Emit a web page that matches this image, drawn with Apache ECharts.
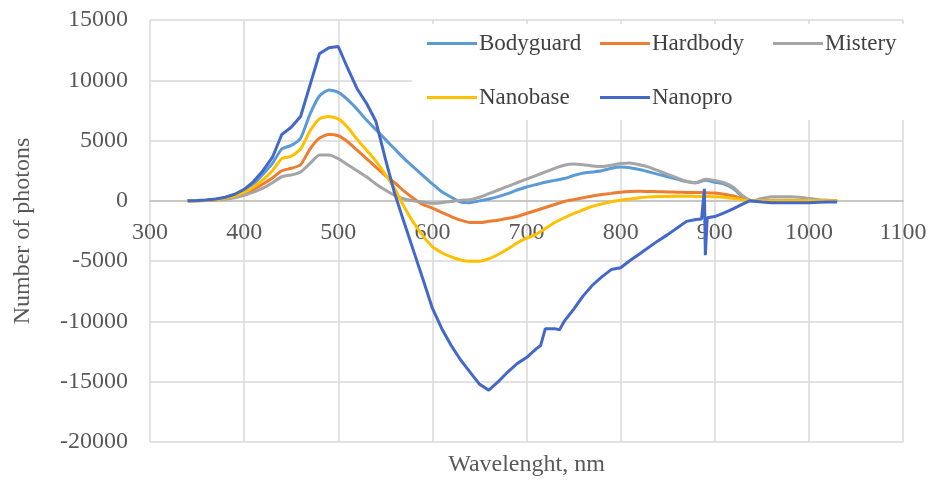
<!DOCTYPE html>
<html>
<head>
<meta charset="utf-8">
<script src="https://cdn.jsdelivr.net/npm/echarts@6/dist/echarts.min.js"></script>
<style>html,body{margin:0;padding:0;background:#fff;}#c{width:931px;height:481px;}</style>
</head>
<body>
<div id="c"></div>
<script>
var seriesNames = ['Bodyguard', 'Hardbody', 'Mistery', 'Nanobase', 'Nanopro'];
var xTicks = [300, 400, 500, 600, 700, 800, 900, 1000, 1100];
var yTicks = [-20000, -15000, -10000, -5000, 0, 5000, 10000, 15000];

var wavelengths = [340,350,360,370,380,390,400,410,420,430,440,450,460,470,480,490,500,510,520,530,540,550,560,570,580,590,600,610,620,630,640,650,660,670,680,690,700,710,720,730,740,750,760,770,780,790,800,810,820,830,840,850,860,870,880,890,900,910,920,930,940,950,960,970,980,990,1000,1010,1020,1030];

var bodyguard = [0,20,60,130,260,480,850,1400,2200,3100,4300,4600,5200,7200,8700,9200,9000,8400,7600,6700,5900,5100,4300,3500,2800,2100,1400,750,300,-100,-150,0,150,350,600,900,1150,1350,1550,1700,1850,2100,2300,2400,2500,2700,2800,2750,2600,2400,2200,2000,1800,1600,1500,1700,1550,1400,1000,300,0,20,40,40,40,30,20,10,0,0];

var hardbody = [0,10,40,90,180,330,580,950,1400,1900,2500,2700,3000,4300,5200,5500,5400,4900,4200,3500,2800,2100,1500,800,200,-300,-600,-950,-1300,-1600,-1800,-1800,-1700,-1600,-1450,-1300,-1050,-800,-550,-300,-50,100,250,400,520,620,720,780,800,780,760,740,720,700,690,680,650,550,400,150,0,0,0,0,0,0,0,0,0,0];

var mistery = [0,10,30,70,140,260,450,720,1050,1500,2000,2150,2400,3100,3800,3800,3500,3000,2500,2000,1400,900,450,150,0,-100,-200,-150,-50,50,100,300,600,900,1200,1500,1800,2100,2400,2700,2950,3050,3000,2900,2850,2950,3100,3150,3000,2800,2500,2200,1900,1600,1500,1800,1700,1500,1100,400,0,200,350,350,350,300,200,100,50,0];

var nanobase = [0,15,50,110,220,400,700,1150,1750,2500,3500,3700,4300,5800,6800,7000,6800,6100,5100,4200,3300,2200,1000,-500,-1800,-2900,-3800,-4300,-4650,-4900,-5000,-5000,-4800,-4450,-4000,-3500,-3100,-2800,-2300,-1800,-1400,-1050,-750,-450,-250,-80,50,150,250,330,360,370,380,380,370,360,350,300,200,80,0,0,0,0,0,0,0,0,0,0];

var nanoproWavelengths = [340,350,360,370,380,390,400,410,420,430,440,450,460,470,480,490,500,510,520,530,540,550,560,570,580,590,600,610,620,630,640,650,660,670,680,690,700,710,715,720,730,735,740,750,760,770,780,790,800,810,820,830,840,850,860,870,880,886,888,889,890,892,900,910,920,930,937,950,960,970,980,990,1000,1010,1020,1030];

var nanopro = [0,30,80,150,300,550,950,1600,2500,3600,5500,6100,7000,9600,12200,12700,12800,11000,9300,8100,6600,3500,600,-1800,-4150,-6500,-8900,-10600,-12000,-13200,-14200,-15200,-15700,-15000,-14200,-13500,-13000,-12300,-12000,-10600,-10600,-10700,-10000,-9000,-7900,-7000,-6300,-5700,-5550,-4950,-4400,-3850,-3300,-2800,-2250,-1700,-1550,-1500,-1500,1000,-4500,-1400,-1300,-1000,-650,-250,0,-100,-150,-150,-150,-150,-150,-120,-100,-100];

function pairs(xs, ys) { return xs.map(function (x, i) { return [x, ys[i]]; }); }

var colors = ['#5B9BD5', '#ED7D31', '#A5A5A5', '#FFC000', '#4468C8'];
var seriesData = [
  pairs(wavelengths, bodyguard),
  pairs(wavelengths, hardbody),
  pairs(wavelengths, mistery),
  pairs(wavelengths, nanobase),
  pairs(nanoproWavelengths, nanopro)
];

var font = 'Liberation Serif';
var legendPos = [[427, 46], [600, 46], [773, 46], [427, 100], [600, 100]];
var legends = seriesNames.map(function (n, i) {
  return {
    data: [n],
    left: legendPos[i][0],
    top: legendPos[i][1] - 14,
    padding: 0,
    itemGap: 0,
    itemWidth: 50,
    itemHeight: 3,
    icon: 'rect',
    itemStyle: { borderWidth: 0 },
    textStyle: { fontFamily: font, fontSize: 23, color: '#404040', padding: [0, 0, 0, -3] },
    z: 10
  };
});

var chart = echarts.init(document.getElementById('c'));
chart.setOption({
  animation: false,
  backgroundColor: '#fff',
  color: colors,
  grid: { left: 150, right: 28, top: 20, bottom: 39, containLabel: false, outerBoundsMode: 'none' },
  graphic: [{
    type: 'rect',
    shape: { x: 412, y: 24, width: 510, height: 96 },
    style: { fill: '#fff' },
    z: 1
  }],
  legend: legends,
  xAxis: {
    type: 'value',
    min: xTicks[0],
    max: xTicks[xTicks.length - 1],
    interval: 100,
    position: 'bottom',
    offset: -241,
    name: 'Wavelenght, nm',
    nameLocation: 'middle',
    nameGap: 252,
    nameTextStyle: { fontFamily: font, fontSize: 24, color: '#595959' },
    axisLine: { onZero: false, lineStyle: { color: '#bfbfbf', width: 1.5 } },
    axisTick: { show: false },
    axisLabel: { fontFamily: font, fontSize: 24, color: '#595959', margin: 20, formatter: function (v) { return String(v); } },
    splitLine: { show: true, lineStyle: { color: '#d9d9d9', width: 1.5 } }
  },
  yAxis: {
    type: 'value',
    min: yTicks[0],
    max: yTicks[yTicks.length - 1],
    interval: 5000,
    name: 'Number of photons',
    nameLocation: 'middle',
    nameGap: 115,
    nameTextStyle: { fontFamily: font, fontSize: 24, color: '#595959' },
    axisLine: { show: false },
    axisTick: { show: false },
    axisLabel: { fontFamily: font, fontSize: 24, color: '#595959', margin: 22, formatter: function (v) { return String(v); } },
    splitLine: { show: true, lineStyle: { color: '#d9d9d9', width: 1.5 } }
  },
  series: seriesNames.map(function (n, i) {
    return {
      name: n,
      type: 'line',
      data: seriesData[i],
      showSymbol: false,
      symbol: 'none',
      smooth: i === 4 ? false : 0.2,
      lineStyle: { width: 3 },
      z: 2 + i
    };
  })
});
</script>
</body>
</html>
